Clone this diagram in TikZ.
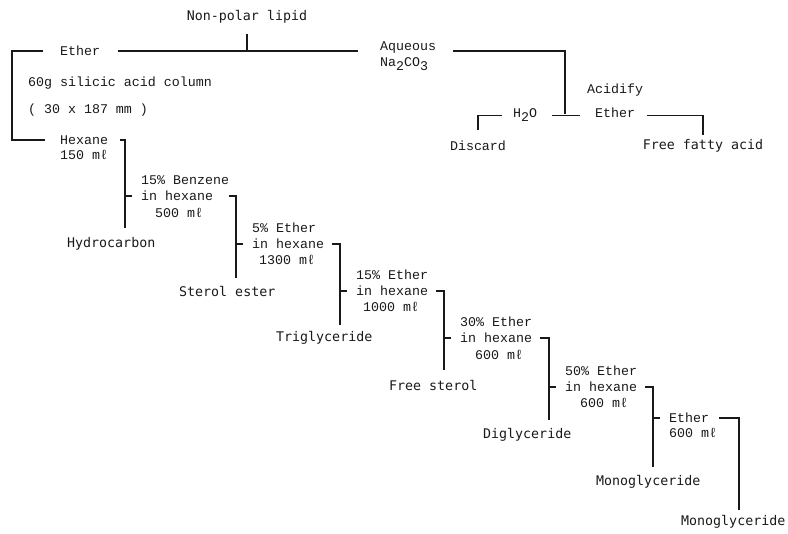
\documentclass[tikz,border=0pt]{standalone}
\usepackage{fontspec}
\usetikzlibrary{positioning}
\newfontfamily\reagfont{Liberation Mono}
\newfontfamily\prodfont{DejaVu Sans Mono}
\newcommand{\lowtxt}[1]{\raisebox{-0.55ex}{#1}}

\begin{document}
\begin{tikzpicture}[
  x=1pt, y=-1pt,
  reag/.style={inner sep=0pt, anchor=west, text=black!90,
               font=\reagfont\fontsize{13.3}{16}\selectfont},
  prod/.style={inner sep=0pt, anchor=west, text=black!90,
               font=\prodfont\fontsize{13.3}{16}\selectfont},
  wire/.style={draw=black!90, line width=1.2pt},
  stub/.style={wire, shorten >=9pt},
  brk/.style={wire, shorten <=8pt}
]
\useasboundingbox (0,0) rectangle (788,534);

% sample and first partition
\node[prod, anchor=center] (lipid) at (247,17) {Non-polar lipid};
\node[reag] (eth)  at (60,51)  {Ether};
\node[reag] (aq)   at (380,48) {Aqueous};
\node[reag] (na)   at (380,64) {Na\lowtxt{2}CO\lowtxt{3}};
\node[reag] (col)  at (28,83)  {60g silicic acid column};
\node[reag] (dim)  at (28,110) {( 30 x 187 mm )};
\draw[wire, shorten <=18pt, shorten >=22pt] (eth.east) -- (eth.east -| aq.west);
\draw[wire, shorten <=10pt] (lipid.south) -- (lipid.south |- eth.east);

% aqueous side
\node[reag] (acid) at (587,90)  {Acidify};
\node[reag, anchor=base west] (wat)  at (513,118) {H\lowtxt{2}O};
\node[reag, anchor=base west] (eth2) at (595,118) {Ether};
\node[reag, anchor=center] (disc) at (478,146) {Discard};
\node[prod, anchor=center] (ffa)  at (703,146) {Free fatty acid};
\coordinate (acj) at (565,114);
\draw[brk, shorten <=17pt] (aq.base east) -| (acj);
\draw[wire, shorten <=15pt, shorten >=15pt] (wat.mid east) -- (eth2.mid west);
\draw[wire, shorten <=11pt, shorten >=11pt] (wat.mid west) -| (disc.north);
\draw[wire, shorten <=12pt, shorten >=4pt] (eth2.mid east) -| (ffa.north);

% column
\coordinate (colL) at (12,100);
\node[reag] (hex)  at (60,140) {Hexane};
\node[reag] (hexv) at (60,155) {150 mℓ};
\draw[wire, shorten <=17pt, shorten >=15pt] (eth.west) -| (colL) |- (hex.west);

% eluting steps
\node[reag] (s1a) at (141,180) {15\% Benzene};
\node[reag] (s1b) at (141,196) {in hexane};
\node[reag] (s1c) at (155,213) {500 mℓ};
\node[reag] (s2a) at (252,228) {5\% Ether};
\node[reag] (s2b) at (252,244) {in hexane};
\node[reag] (s2c) at (259,260) {1300 mℓ};
\node[reag] (s3a) at (356,275) {15\% Ether};
\node[reag] (s3b) at (356,291) {in hexane};
\node[reag] (s3c) at (363,307) {1000 mℓ};
\node[reag] (s4a) at (460,322) {30\% Ether};
\node[reag] (s4b) at (460,338) {in hexane};
\node[reag] (s4c) at (475,355) {600 mℓ};
\node[reag] (s5a) at (565,371) {50\% Ether};
\node[reag] (s5b) at (565,387) {in hexane};
\node[reag] (s5c) at (580,403) {600 mℓ};
\node[reag] (s6a) at (669,418) {Ether};
\node[reag] (s6b) at (669,433) {600 mℓ};

% fractions
\node[prod] (hydro)  at (67,244)  {Hydrocarbon};
\node[prod] (stest)  at (179,292) {Sterol ester};
\node[prod] (trig)   at (276,338) {Triglyceride};
\node[prod] (fster)  at (389,386) {Free sterol};
\node[prod] (digly)  at (483,435) {Diglyceride};
\node[prod] (mono)   at (596,482) {Monoglyceride};
\node[prod] (monob)  at (681,522) {Monoglyceride};

\coordinate (v1) at (125,228);
\coordinate (v2) at (236,278);
\coordinate (v3) at (340,325);
\coordinate (v4) at (444,370);
\coordinate (v5) at (549,420);
\coordinate (v6) at (653,467);
\coordinate (v7) at (739,510);

\draw[brk, shorten <=12pt] (hex.east) -| (v1);
\draw[stub] (v1 |- s1b.west) -- (s1b.west);
\draw[brk, shorten <=16pt] (s1b.east) -| (v2);
\draw[stub] (v2 |- s2b.west) -- (s2b.west);
\draw[brk] (s2b.east) -| (v3);
\draw[stub] (v3 |- s3b.west) -- (s3b.west);
\draw[brk] (s3b.east) -| (v4);
\draw[stub] (v4 |- s4b.west) -- (s4b.west);
\draw[brk] (s4b.east) -| (v5);
\draw[stub] (v5 |- s5b.west) -- (s5b.west);
\draw[brk] (s5b.east) -| (v6);
\draw[stub] (v6 |- s6a.west) -- (s6a.west);
\draw[brk, shorten <=10pt] (s6a.east) -| (v7);
\end{tikzpicture}
\end{document}
